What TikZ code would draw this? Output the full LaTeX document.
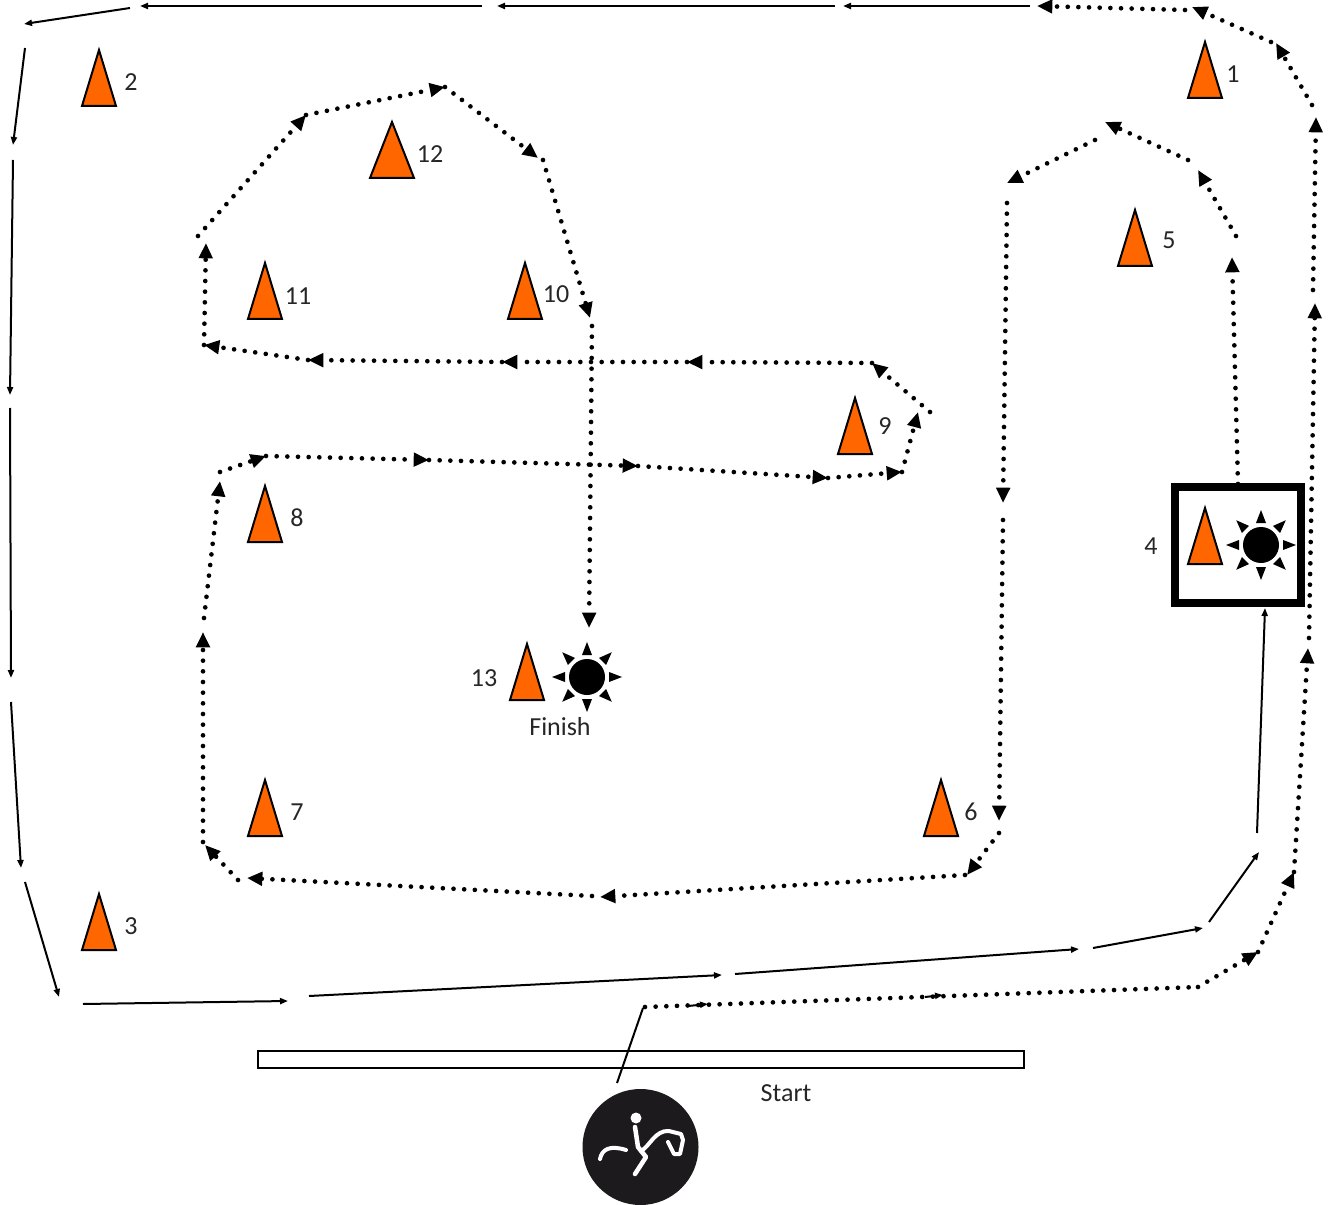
\documentclass[tikz,border=0pt]{standalone}
\usepackage{fontspec}
\setmainfont{Carlito}
\usetikzlibrary{arrows.meta}
\definecolor{conefill}{RGB}{255,102,0}
\definecolor{riderdisc}{RGB}{28,26,28}
\tikzset{every picture/.style={line width=0.75pt}}
\tikzset{
  trackline/.style={line width=1.5pt,-{Triangle[length=6pt,width=4.5pt]}},
  trackdots/.style={line width=3.5pt,line cap=round,dash pattern={on 0pt off 8pt},-{Triangle[length=11.5pt,width=10pt]}},
  plaindots/.style={line width=3.5pt,line cap=round,dash pattern={on 0pt off 8pt}},
  marklabel/.style={inner sep=0.75pt,font=\fontsize{19.5}{22}\selectfont,text=black!85},
  cone/.pic={\draw [fill=conefill,line width=1.5pt,line join=miter] (0,0) -- (#1,-56) -- (-#1,-56) -- cycle ;},
  sunray/.pic={\fill (-5,-22) -- (0,-35) -- (5,-22) -- cycle ;},
  sun/.pic={\fill (0,0) circle (18) ;
    \foreach \ang in {0,45,...,315} {\pic [rotate=\ang] {sunray};}},
}
\begin{document}
\begin{tikzpicture}[x=0.75pt,y=0.75pt,yscale=-1,xscale=1]
\useasboundingbox (0,0) rectangle (1328,1205);

% Start bar
\draw [fill=white,line width=1.9pt] (258,1051) rectangle (1024,1068) ;

% Cones
\pic at (1205,42) {cone=17};
\pic at (99,50) {cone=17};
\pic at (99,894) {cone=17};
\pic at (1205,508) {cone=17};
\pic at (1135,210) {cone=17};
\pic at (941,780) {cone=17};
\pic at (265,780) {cone=17};
\pic at (265,486) {cone=17};
\pic at (855,398) {cone=17};
\pic at (525,263) {cone=17};
\pic at (265,263) {cone=17};
\pic at (392,122) {cone=22};
\pic at (527,644) {cone=17};

% Suns
\pic at (1261,545) {sun};
\pic at (587,677) {sun};

% Box round cone 4
\draw [line width=6pt] (1175,487) rectangle (1301,603) ;

% Solid track
\coordinate (ride0) at (617,1083);
\coordinate (ride1) at (643,1008);
\draw [line width=1.5pt] (ride0) -- (ride1) ;
\coordinate (sa1) at (1030,6);
\coordinate (sa2) at (843,6);
\draw [trackline] (sa1) -- (sa2) ;
\coordinate (sb1) at (835,6);
\coordinate (sb2) at (497,6);
\draw [trackline] (sb1) -- (sb2) ;
\coordinate (sc1) at (482,6);
\coordinate (sc2) at (140,6);
\draw [trackline] (sc1) -- (sc2) ;
\coordinate (sd1) at (130,8);
\coordinate (sd2) at (24,24);
\draw [trackline] (sd1) -- (sd2) ;
\coordinate (se1) at (25,48);
\coordinate (se2) at (13,145);
\draw [trackline] (se1) -- (se2) ;
\coordinate (sf1) at (13,160);
\coordinate (sf2) at (10,395);
\draw [trackline] (sf1) -- (sf2) ;
\coordinate (sg1) at (10,408);
\coordinate (sg2) at (11,678);
\draw [trackline] (sg1) -- (sg2) ;
\coordinate (sh1) at (11,702);
\coordinate (sh2) at (21,868);
\draw [trackline] (sh1) -- (sh2) ;
\coordinate (si1) at (25,882);
\coordinate (si2) at (59,997);
\draw [trackline] (si1) -- (si2) ;
\coordinate (sj1) at (83,1004);
\coordinate (sj2) at (288,1001);
\draw [trackline] (sj1) -- (sj2) ;
\coordinate (sk1) at (309,996);
\coordinate (sk2) at (722,975);
\draw [trackline] (sk1) -- (sk2) ;
\coordinate (sl1) at (735,974);
\coordinate (sl2) at (1079,949);
\draw [trackline] (sl1) -- (sl2) ;
\coordinate (sm1) at (1093,948);
\coordinate (sm2) at (1203,928);
\draw [trackline] (sm1) -- (sm2) ;
\coordinate (sn1) at (1209,922);
\coordinate (sn2) at (1259,852);
\draw [trackline] (sn1) -- (sn2) ;
\coordinate (so1) at (1257,833);
\coordinate (so2) at (1265,608);
\draw [trackline] (so1) -- (so2) ;

% Outer dotted track
\coordinate (oa) at (645,1007);
\coordinate (ob) at (1198,987);
\coordinate (oc) at (1258,952);
\coordinate (od) at (1294,872);
\coordinate (oe) at (1308,648);
\coordinate (of1) at (1309,638);
\coordinate (of2) at (1315,303);
\coordinate (og1) at (1313,290);
\coordinate (og2) at (1316,117);
\coordinate (oh1) at (1312,105);
\coordinate (oh2) at (1276,43);
\coordinate (oi1) at (1271,42);
\coordinate (oi2) at (1192,7);
\coordinate (oj1) at (1185,10);
\coordinate (oj2) at (1037,6);
\draw [plaindots] (oa) -- (ob) ;
\draw [trackdots] (ob) -- (oc) ;
\draw [trackdots] (oc) -- (od) ;
\draw [trackdots] (od) -- (oe) ;
\draw [trackdots] (of1) -- (of2) ;
\draw [trackdots] (og1) -- (og2) ;
\draw [trackdots] (oh1) -- (oh2) ;
\draw [trackdots] (oi1) -- (oi2) ;
\draw [trackdots] (oj1) -- (oj2) ;
\coordinate (ta1) at (688,1006);
\coordinate (ta2) at (708,1004);
\draw [trackline] (ta1) -- (ta2) ;
\coordinate (tb1) at (925,997);
\coordinate (tb2) at (943,995);
\draw [trackline] (tb1) -- (tb2) ;

% Inner dotted track
\coordinate (ia) at (1238,484);
\coordinate (ib) at (1232,257);
\coordinate (ic) at (1236,236);
\coordinate (id) at (1198,170);
\coordinate (ie) at (1188,160);
\coordinate (if) at (1105,122);
\coordinate (ig) at (1095,140);
\coordinate (ih) at (1007,183);
\coordinate (ii) at (1007,203);
\coordinate (ij) at (1003,503);
\coordinate (ik) at (1003,520);
\coordinate (il) at (999,821);
\coordinate (im) at (999,833);
\coordinate (in) at (967,875);
\coordinate (io) at (965,875);
\coordinate (ip) at (600,897);
\coordinate (iq) at (592,896);
\coordinate (ir) at (247,878);
\coordinate (is) at (238,880);
\coordinate (it) at (205,845);
\coordinate (iu) at (203,842);
\coordinate (iv) at (203,632);
\coordinate (iw) at (204,618);
\coordinate (ix) at (220,481);
\coordinate (iy) at (220,472);
\coordinate (iz) at (266,456);
\draw [trackdots] (ia) -- (ib) ;
\draw [trackdots] (ic) -- (id) ;
\draw [trackdots] (ie) -- (if) ;
\draw [trackdots] (ig) -- (ih) ;
\draw [trackdots] (ii) -- (ij) ;
\draw [trackdots] (ik) -- (il) ;
\draw [trackdots] (im) -- (in) ;
\draw [trackdots] (io) -- (ip) ;
\draw [trackdots] (iq) -- (ir) ;
\draw [trackdots] (is) -- (it) ;
\draw [trackdots] (iu) -- (iv) ;
\draw [trackdots] (iw) -- (ix) ;
\draw [trackdots] (iy) -- (iz) ;

% Loop round 9, 10, 11, 12 and on to the finish
\coordinate (ka) at (266,456);
\coordinate (kb) at (429,460);
\coordinate (kc) at (638,466);
\coordinate (kd) at (828,478);
\coordinate (ke) at (902,472);
\coordinate (kf) at (918,412);
\coordinate (kg) at (930,412);
\coordinate (kh) at (872,363);
\coordinate (ki) at (687,362);
\coordinate (kj) at (502,362);
\coordinate (kk) at (308,360);
\coordinate (kl) at (204,345);
\coordinate (km) at (206,243);
\coordinate (kn) at (198,236);
\coordinate (ko) at (306,115);
\coordinate (kp) at (445,87);
\coordinate (kq) at (538,158);
\coordinate (kr) at (543,160);
\coordinate (ks) at (590,318);
\coordinate (kt) at (592,326);
\coordinate (ku) at (589,628);
\draw [trackdots] (ka) -- (kb) ;
\draw [trackdots] (kb) -- (kc) ;
\draw [trackdots] (kc) -- (kd) ;
\draw [trackdots] (kd) -- (ke) ;
\draw [trackdots] (ke) -- (kf) ;
\draw [trackdots] (kg) -- (kh) ;
\draw [trackdots] (kh) -- (ki) ;
\draw [trackdots] (ki) -- (kj) ;
\draw [trackdots] (kj) -- (kk) ;
\draw [trackdots] (kk) -- (kl) ;
\draw [trackdots] (kl) -- (km) ;
\draw [trackdots] (kn) -- (ko) ;
\draw [trackdots] (ko) -- (kp) ;
\draw [trackdots] (kp) -- (kq) ;
\draw [trackdots] (kr) -- (ks) ;
\draw [trackdots] (kt) -- (ku) ;

% Rider badge
\fill [riderdisc] (640.5,1147) circle (58) ;
\fill [white] (636,1118) circle (5.5) ;
\draw [white,line width=3.4pt,line cap=round,line join=round] (635,1127) -- (638,1147) -- (646,1157) -- (635,1174) ;
\draw [white,line width=3pt,line cap=round,line join=round] (600,1159) .. controls (602,1149) and (610,1145) .. (626,1150) ;
\draw [white,line width=3pt,line cap=round,line join=round] (641,1151) .. controls (650,1146) and (655,1130) .. (669,1131) -- (681,1134) -- (683,1140) -- (680,1154) -- (674,1154) -- (668,1142) ;

% Text Node
\node [marklabel] (num1) at (1233,74) {1};
\node [marklabel] (num2) at (131,82) {2};
\node [marklabel] (num3) at (131,926) {3};
\node [marklabel] (num4) at (1151,546) {4};
\node [marklabel] (num5) at (1169,240) {5};
\node [marklabel] (num6) at (971,812) {6};
\node [marklabel] (num7) at (297,812) {7};
\node [marklabel] (num8) at (297,518) {8};
\node [marklabel] (num9) at (885,426) {9};
\node [marklabel] (num10) at (556,294) {10};
\node [marklabel] (num11) at (298,296) {11};
\node [marklabel] (num12) at (430,154) {12};
\node [marklabel] (num13) at (484,678) {13};
\node [marklabel] (finish) at (560,727) {Finish};
\node [marklabel] (start) at (786,1093) {Start};
\end{tikzpicture}
\end{document}
